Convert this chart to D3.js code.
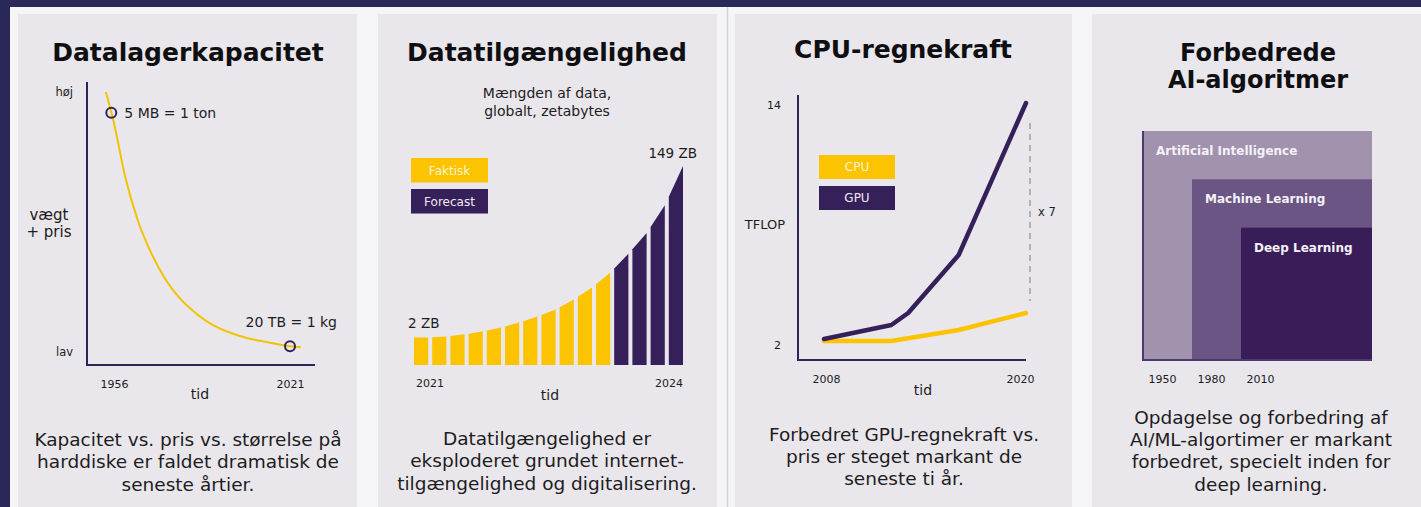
<!DOCTYPE html>
<html>
<head>
<meta charset="utf-8">
<script src="https://cdn.jsdelivr.net/npm/d3@7"></script>
<style>
  body { margin: 0; background: #f5f5f7; }
  svg { display: block; font-family: "DejaVu Sans", sans-serif; }
</style>
</head>
<body>
<svg id="chart" width="1421" height="507"></svg>
<script>
// Datalagerkapacitet: relative weight + price (høj = 100, lav = 0)
const storageYears = [1953, 1956, 1960, 1965, 1970, 1975, 1980, 1985, 1990, 1995, 2000, 2005, 2010, 2015, 2021, 2025]
const storageLevel = [100, 88, 68, 50, 37.5, 28, 21, 16, 12, 9.1, 7, 5.4, 4.3, 3.3, 2.2, 1.8]
const storageMarkYears = [1955, 2021]
const storageMarkLevel = [92, 2.2]
const storageMarkText = ["5 MB = 1 ton", "20 TB = 1 kg"]
const storageTicks = [1956, 2021]

// Datatilgængelighed: zetabytes per period
const zbValues = [2.0, 2.05, 2.16, 2.33, 2.57, 2.91, 3.38, 4.03, 5.2, 7.0, 10.2, 16.4, 27.6, 55.5, 149]
const zbKinds = ["Faktisk", "Faktisk", "Faktisk", "Faktisk", "Faktisk", "Faktisk", "Faktisk", "Faktisk",
                 "Faktisk", "Faktisk", "Faktisk", "Forecast", "Forecast", "Forecast", "Forecast"]
const zbTicks = ["2021", "2024"]

// CPU-regnekraft (TFLOP)
const gpuYears = [2008, 2012, 2013, 2016, 2020]
const gpuTflop = [2.3, 3.0, 3.6, 6.5, 14.1]
const cpuYears = [2008, 2012, 2016, 2020]
const cpuTflop = [2.2, 2.2, 2.75, 3.6]
const tflopTicks = [2, 14]
const yearTicks = [2008, 2020]

// Forbedrede AI-algoritmer
const aiFields = ["Artificial Intelligence", "Machine Learning", "Deep Learning"]
const aiStart = [1950, 1980, 2010]

const svg = d3.select("#chart")
const ink = "#1d1c21", navy = "#2f2458", gold = "#fcc300", purple = "#35205a"

// frame + panels
svg.append("rect").attr("width", 1421).attr("height", 507).attr("fill", "#f5f5f7")
svg.append("rect").attr("width", 1421).attr("height", 7).attr("fill", "#2a2759")
svg.append("rect").attr("width", 10).attr("height", 507).attr("fill", "#2a2759")
svg.append("line").attr("x1", 727.5).attr("x2", 727.5).attr("y1", 7).attr("y2", 507)
  .attr("stroke", "#d4d2d8").attr("stroke-width", 1.5)

const panelX = [18, 378, 735, 1092], panelW = [339, 339, 337, 340]
svg.selectAll(".panel").data(panelX).enter().append("rect")
  .attr("class", "panel")
  .attr("x", d => d).attr("y", 14)
  .attr("width", (d, i) => panelW[i]).attr("height", 493)
  .attr("fill", "#e9e7ec")

function title(lines, cx, y0, size = 25) {
  const t = svg.append("text").attr("text-anchor", "middle").attr("font-weight", "bold")
    .attr("font-size", size).attr("fill", "#0f0f12")
  lines.forEach((l, i) => t.append("tspan").attr("x", cx).attr("y", y0 + i * 27).text(l))
}

function body(lines, cx, y0) {
  const t = svg.append("text").attr("text-anchor", "middle")
    .attr("font-size", 18.5).attr("fill", ink)
  lines.forEach((l, i) => t.append("tspan").attr("x", cx).attr("y", y0 + i * 22.4).text(l))
}

function label(txt, x, y, size, anchor = "start", color = ink, weight = "normal") {
  return svg.append("text").attr("x", x).attr("y", y).attr("font-size", size)
    .attr("text-anchor", anchor).attr("fill", color).attr("font-weight", weight).text(txt)
}

// style axis text drawn by d3.axis
function styleAxis(g, size) {
  g.select(".domain").remove()
  g.attr("font-family", null).attr("font-size", size)
  g.selectAll("text").attr("fill", ink)
}

/* panel 1: Datalagerkapacitet */
title(["Datalagerkapacitet"], 188, 61)
const x1 = d3.scaleLinear().domain([1956, 2021]).range([114, 290])
const y1 = d3.scaleLinear().domain([0, 100]).range([352, 92])

svg.append("path").attr("d", "M87,82V365H315").attr("fill", "none")
  .attr("stroke", navy).attr("stroke-width", 2)

svg.append("g").attr("transform", "translate(87,0)")
  .call(d3.axisLeft(y1).tickValues([0, 100]).tickFormat(d => d ? "høj" : "lav").tickSize(0).tickPadding(14))
  .call(g => styleAxis(g, 11.5))
svg.append("g").attr("transform", "translate(0,365)")
  .call(d3.axisBottom(x1).tickValues(storageTicks).tickFormat(d3.format("d")).tickSize(0).tickPadding(15))
  .call(g => styleAxis(g, 11))

label("vægt", 49, 220, 15, "middle")
label("+ pris", 49, 237, 15, "middle")
label("tid", 200, 399, 14, "middle")

svg.append("path")
  .datum(storageYears.map((y, i) => [y, storageLevel[i]]))
  .attr("d", d3.line().x(d => x1(d[0])).y(d => y1(d[1])).curve(d3.curveMonotoneX))
  .attr("fill", "none").attr("stroke", "#f2c300").attr("stroke-width", 2)

storageMarkYears.forEach((yr, i) => {
  const cx = x1(yr), cy = y1(storageMarkLevel[i])
  svg.append("circle").attr("cx", cx).attr("cy", cy).attr("r", 5)
    .attr("fill", "none").attr("stroke", navy).attr("stroke-width", 2)
  if (i == 0) label(storageMarkText[i], cx + 13, cy + 5, 14)
  else label(storageMarkText[i], cx + 47, cy - 19, 14, "end")
})

body(["Kapacitet vs. pris vs. størrelse på", "harddiske er faldet dramatisk de", "seneste årtier."], 188, 446)

/* panel 2: Datatilgængelighed */
title(["Datatilgængelighed"], 547, 61)
label("Mængden af data,", 547, 98, 14, "middle")
label("globalt, zetabytes", 547, 116, 14, "middle")

const x2 = d3.scaleBand().domain(d3.range(zbValues.length)).range([414, 683]).paddingInner(0.22)
const y2 = d3.scaleLog().domain([1, 149]).range([365, 166])
const kindColor = d3.scaleOrdinal().domain(["Faktisk", "Forecast"]).range([gold, purple])
const kindText = d3.scaleOrdinal().domain(["Faktisk", "Forecast"]).range(["#fff4cc", "#efe9f5"])
const slant = 1 - x2.bandwidth() / x2.step()

svg.selectAll(".zb").data(zbValues).enter().append("path")
  .attr("class", "zb")
  .attr("fill", (d, i) => kindColor(zbKinds[i]))
  .attr("d", (d, i) => {
    const l = x2(i), r = l + x2.bandwidth(), yr = y2(d)
    const yp = i ? y2(zbValues[i - 1]) : yr
    const yl = yp + (yr - yp) * slant
    return `M${l},${y2(1)}V${yl}L${r},${yr}V${y2(1)}Z`
  })

const lastBar = x2(zbValues.length - 1) + x2.bandwidth()
label(zbValues[zbValues.length - 1] + " ZB", lastBar + 14, y2(149) - 8, 13.5, "end")
label(zbValues[0] + " ZB", x2(0) - 6, y2(zbValues[0]) - 9, 13.5)
label(zbTicks[0], x2(0) + 2, 387, 11)
label(zbTicks[1], lastBar, 387, 11, "end")
label("tid", 550, 400, 14, "middle")

kindColor.domain().forEach((k, i) => {
  svg.append("rect").attr("x", 411).attr("y", 158 + i * 31).attr("width", 77).attr("height", 24.5)
    .attr("fill", kindColor(k))
  label(k, 449.5, 158 + i * 31 + 16.5, 12, "middle", kindText(k))
})

body(["Datatilgængelighed er", "eksploderet grundet internet-", "tilgængelighed og digitalisering."], 547, 445)

/* panel 3: CPU-regnekraft */
title(["CPU-regnekraft"], 903, 58)
const x3 = d3.scaleLinear().domain([2008, 2020]).range([824, 1026])
const y3 = d3.scaleLinear().domain([2, 14]).range([345, 105])

svg.append("path").attr("d", "M798,95V360H1026").attr("fill", "none")
  .attr("stroke", navy).attr("stroke-width", 2)
svg.append("g").attr("transform", "translate(798,0)")
  .call(d3.axisLeft(y3).tickValues(tflopTicks).tickSize(0).tickPadding(17))
  .call(g => styleAxis(g, 11))
svg.append("g").attr("transform", "translate(0,360)")
  .call(d3.axisBottom(x3).tickValues(yearTicks).tickFormat(d3.format("d")).tickSize(0).tickPadding(15))
  .call(g => styleAxis(g, 11))
  .call(g => g.selectAll("text").attr("dx", d => d == 2020 ? -6 : 2))
label("TFLOP", 785, 229, 13, "end")
label("tid", 923, 395, 14, "middle")

const line3 = d3.line().x(d => x3(d[0])).y(d => y3(d[1]))
svg.append("path").datum(cpuYears.map((y, i) => [y, cpuTflop[i]]))
  .attr("d", line3).attr("fill", "none").attr("stroke", gold)
  .attr("stroke-width", 4.5).attr("stroke-linecap", "round").attr("stroke-linejoin", "round")
svg.append("path").datum(gpuYears.map((y, i) => [y, gpuTflop[i]]))
  .attr("d", line3).attr("fill", "none").attr("stroke", purple)
  .attr("stroke-width", 4.5).attr("stroke-linecap", "round").attr("stroke-linejoin", "round")

const dashX = x3(2020) + 4
svg.append("line").attr("x1", dashX).attr("x2", dashX)
  .attr("y1", y3(gpuTflop[gpuTflop.length - 1]) + 20).attr("y2", y3(cpuTflop[cpuTflop.length - 1]) - 12)
  .attr("stroke", "#a09ea6").attr("stroke-width", 1.5).attr("stroke-dasharray", "6,5")
label("x 7", dashX + 8, 216, 11.5)

const lineColor = d3.scaleOrdinal().domain(["CPU", "GPU"]).range([gold, purple])
const lineText = d3.scaleOrdinal().domain(["CPU", "GPU"]).range(["#fff4cc", "#efe9f5"])
lineColor.domain().forEach((k, i) => {
  svg.append("rect").attr("x", 819).attr("y", 155 + i * 31).attr("width", 76).attr("height", 24)
    .attr("fill", lineColor(k))
  label(k, 857, 155 + i * 31 + 16, 12, "middle", lineText(k))
})

body(["Forbedret GPU-regnekraft vs.", "pris er steget markant de", "seneste ti år."], 904, 440.5)

/* panel 4: Forbedrede AI-algoritmer */
title(["Forbedrede", "AI-algoritmer"], 1258, 61, 24)
const x4 = d3.scaleLinear().domain([1950, 2010]).range([1143, 1241])
const y4 = d3.scaleBand().domain(aiFields).range([131, 276])
const aiColor = d3.scaleOrdinal().domain(aiFields).range(["#a193ae", "#6a5584", "#391d58"])

svg.selectAll(".field").data(aiFields).enter().append("rect")
  .attr("class", "field")
  .attr("x", (d, i) => x4(aiStart[i])).attr("y", d => y4(d))
  .attr("width", (d, i) => 1372 - x4(aiStart[i])).attr("height", d => 360 - y4(d))
  .attr("fill", d => aiColor(d))
svg.selectAll(".fieldLabel").data(aiFields).enter().append("text")
  .attr("class", "fieldLabel")
  .attr("x", (d, i) => x4(aiStart[i]) + 13).attr("y", d => y4(d) + 24)
  .attr("font-size", 12).attr("font-weight", "bold").attr("fill", "#f4f1f7")
  .text(d => d)
svg.append("path").attr("d", "M1143,131V360H1372").attr("fill", "none")
  .attr("stroke", "#4d3a6c").attr("stroke-width", 2)

svg.append("g").attr("transform", "translate(0,360)")
  .call(d3.axisBottom(x4).tickValues(aiStart).tickFormat(d3.format("d")).tickSize(0).tickPadding(15))
  .call(g => styleAxis(g, 11))
  .call(g => g.selectAll("text").attr("text-anchor", "start").attr("dx", 5))

body(["Opdagelse og forbedring af", "AI/ML-algortimer er markant", "forbedret, specielt inden for", "deep learning."], 1261, 423.5)
</script>
</body>
</html>
